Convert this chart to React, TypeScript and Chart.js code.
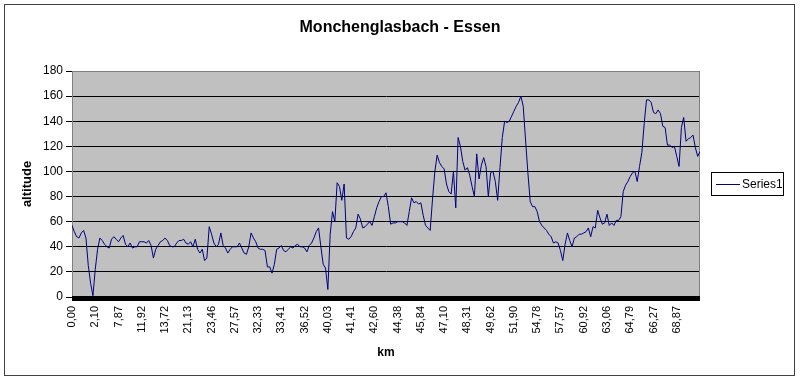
import React, { useEffect, useRef } from "react";
import { Chart, registerables } from "chart.js";

Chart.register(...registerables);

const chartTitle = "Monchenglasbach - Essen";
const seriesName = "Series1";
const xAxisTitle = "km";
const yAxisTitle = "altitude";

const tickLabels = [
  "0,00", "2,10", "7,87", "11,92", "13,72", "21,13", "23,46", "27,57", "32,33",
  "33,41", "36,52", "40,03", "41,41", "42,60", "44,38", "45,84", "47,10", "48,31",
  "49,62", "51,90", "54,78", "57,57", "60,92", "63,06", "64,79", "66,27", "68,87",
];
const pointsPerTick = 10;

const altitude = [
  57, 52, 48, 47, 51, 53, 47, 25, 11, 1,
  22, 38, 47, 45, 42, 40, 39, 46, 48, 46,
  44, 47, 49, 42, 40, 43, 39, 40, 40, 44,
  44, 44, 43, 45, 41, 31, 38, 41, 44, 45,
  47, 45, 41, 40, 40, 43, 45, 45, 46, 43,
  42, 44, 40, 46, 38, 35, 38, 29, 31, 56,
  50, 43, 40, 42, 51, 41, 39, 35, 38, 40,
  40, 40, 43, 39, 35, 34, 40, 51, 47, 44,
  39, 38, 38, 37, 24, 24, 19, 26, 38, 39,
  41, 37, 36, 38, 40, 39, 41, 42, 40, 40,
  39, 36, 41, 43, 47, 52, 55, 40, 26, 23,
  6, 50, 68, 60, 91, 88, 77, 90, 47, 46,
  48, 52, 55, 66, 62, 55, 56, 58, 60, 57,
  64, 71, 76, 80, 80, 83, 72, 58, 59, 59,
  60, 60, 60, 59, 57, 68, 79, 75, 76, 74,
  75, 65, 57, 55, 53, 78, 100, 113, 107, 104,
  102, 90, 84, 82, 100, 71, 127, 120, 108, 101,
  103, 97, 88, 80, 114, 94, 105, 111, 104, 80,
  99, 100, 92, 77, 103, 127, 140, 139, 140, 144,
  148, 152, 155, 160, 152, 125, 99, 76, 72, 72,
  68, 60, 57, 55, 53, 50, 48, 43, 44, 43,
  37, 29, 42, 51, 45, 40, 47, 48, 50, 50,
  51, 52, 55, 48, 56, 55, 69, 63, 58, 59,
  66, 57, 59, 57, 61, 61, 64, 84, 89, 92,
  96, 99, 100, 92, 104, 115, 138, 157, 157, 155,
  147, 146, 149, 146, 136, 135, 121, 121, 119, 120,
  112, 104, 135, 143, 124, 126, 127, 129, 119, 112,
  116,
];

const FONT = "'Liberation Sans', Arial, sans-serif";
const NARROW = "'Liberation Sans Narrow', 'Liberation Sans', Arial, sans-serif";
const LINE_COLOR = "#000080";

const decorPlugin = {
  id: "excelDecor",
  beforeDraw(chart: any) {
    const { ctx, chartArea: a, width, height } = chart;
    ctx.save();
    ctx.fillStyle = "#ffffff";
    ctx.fillRect(0, 0, width, height);
    ctx.fillStyle = "#c0c0c0";
    ctx.fillRect(a.left, a.top, a.right - a.left, a.bottom - a.top);
    ctx.restore();
  },
  beforeDatasetsDraw(chart: any) {
    const { ctx, chartArea: a } = chart;
    ctx.save();
    ctx.strokeStyle = "#808080";
    ctx.lineWidth = 1;
    ctx.beginPath();
    ctx.moveTo(a.left + 0.5, a.bottom);
    ctx.lineTo(a.left + 0.5, a.top + 0.5);
    ctx.lineTo(a.right - 0.5, a.top + 0.5);
    ctx.lineTo(a.right - 0.5, a.bottom);
    ctx.stroke();
    ctx.fillStyle = "#000000";
    ctx.fillRect(a.left, a.bottom - 1, a.right - a.left, 5);
    ctx.restore();
  },
  afterDraw(chart: any) {
    const { ctx } = chart;
    ctx.save();
    // outer frame
    ctx.strokeStyle = "#404040";
    ctx.lineWidth = 1;
    ctx.strokeRect(4.5, 4.5, 790, 371);
    // title
    ctx.fillStyle = "#000000";
    ctx.font = `bold 16px ${FONT}`;
    ctx.textAlign = "center";
    ctx.textBaseline = "middle";
    ctx.fillText(chartTitle, 400, 28);
    // legend
    const lx = 711.5, ly = 172.5, lw = 72, lh = 23;
    ctx.fillStyle = "#ffffff";
    ctx.fillRect(lx, ly, lw, lh);
    ctx.strokeStyle = "#000000";
    ctx.strokeRect(lx, ly, lw, lh);
    ctx.strokeStyle = LINE_COLOR;
    ctx.beginPath();
    ctx.moveTo(716, 184.5);
    ctx.lineTo(740, 184.5);
    ctx.stroke();
    ctx.fillStyle = "#000000";
    ctx.font = `12px ${FONT}`;
    ctx.textBaseline = "middle";
    ctx.textAlign = "left";
    ctx.fillText(seriesName, 742, 184.5);
    ctx.restore();
  },
};

export default function App() {
  const canvasRef = useRef<HTMLCanvasElement | null>(null);

  useEffect(() => {
    const canvas = canvasRef.current;
    if (!canvas) return;
    const chart = new Chart(canvas, {
      type: "line",
      data: {
        datasets: [
          {
            label: seriesName,
            data: altitude.map((v, i) => ({ x: i, y: v })),
            borderColor: LINE_COLOR,
            borderWidth: 1,
            pointRadius: 0,
            tension: 0,
            fill: false,
          },
        ],
      },
      options: {
        animation: false,
        responsive: false,
        devicePixelRatio: 1,
        layout: { padding: { left: 0, right: 100, top: 71, bottom: 0 } },
        plugins: {
          legend: { display: false },
          tooltip: { enabled: false },
          title: { display: false },
        },
        scales: {
          x: {
            type: "linear",
            min: 0,
            max: altitude.length - 1,
            afterBuildTicks: (s: any) => {
              s.ticks = tickLabels.map((_, k) => ({ value: k * pointsPerTick }));
            },
            afterFit: (s: any) => {
              s.height = 83;
            },
            grid: { display: false, drawTicks: false },
            border: { display: false },
            ticks: {
              autoSkip: false,
              minRotation: 90,
              maxRotation: 90,
              padding: 9,
              color: "#000000",
              font: { family: NARROW, size: 11 },
              callback: (_v: any, idx: number) => tickLabels[idx],
            },
            title: {
              display: true,
              text: xAxisTitle,
              color: "#000000",
              font: { family: FONT, size: 12, weight: "bold" },
              padding: { top: 0, bottom: 20 },
            },
          },
          y: {
            min: 0,
            max: 180,
            afterFit: (s: any) => {
              s.width = 72;
            },
            grid: {
              color: (c: any) => (c.tick && c.tick.value === 180 ? "#808080" : "#000000"),
              tickColor: "#000000",
              tickLength: 6,
              lineWidth: 1,
            },
            border: { display: true, color: "#808080" },
            ticks: {
              stepSize: 20,
              padding: 3,
              color: "#000000",
              font: { family: FONT, size: 12 },
            },
            title: {
              display: true,
              text: yAxisTitle,
              color: "#000000",
              font: { family: FONT, size: 13, weight: "bold" },
              padding: { top: 20, bottom: 0 },
            },
          },
        },
      },
      plugins: [decorPlugin],
    } as any);
    return () => chart.destroy();
  }, []);

  return (
    <div style={{ position: "fixed", left: 0, top: 0, width: 800, height: 380, background: "#fff" }}>
      <canvas ref={canvasRef} width={800} height={380} style={{ display: "block" }} />
    </div>
  );
}
